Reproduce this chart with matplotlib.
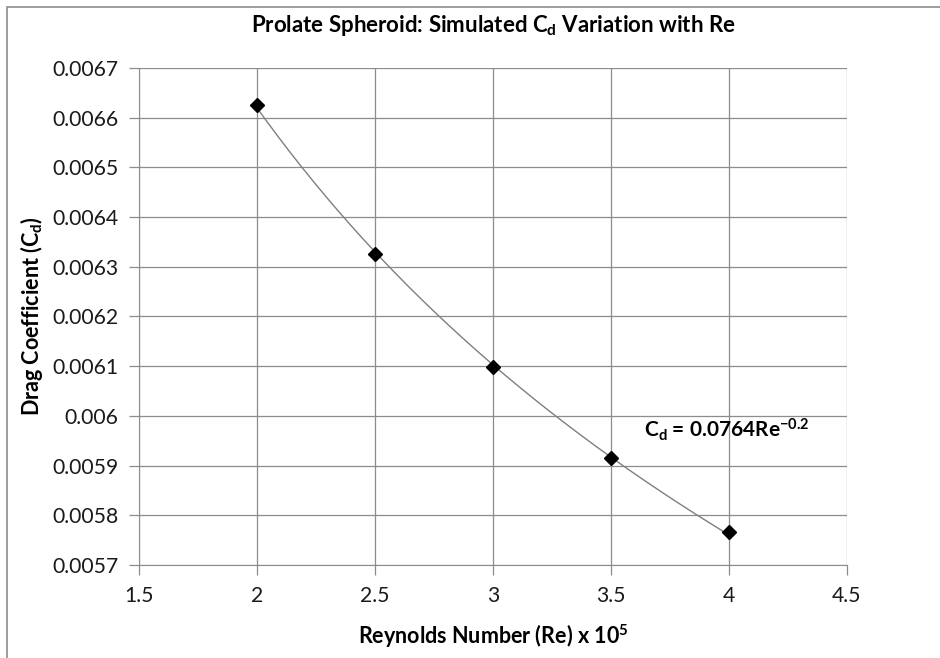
import numpy as np
import matplotlib as mpl
import matplotlib.pyplot as plt
from matplotlib.patches import Rectangle

mpl.rcParams['font.family'] = ['Lato', 'DejaVu Sans']
mpl.rcParams['mathtext.fontset'] = 'custom'
mpl.rcParams['mathtext.rm'] = 'Lato'
mpl.rcParams['mathtext.bf'] = 'Lato:bold'
mpl.rcParams['mathtext.it'] = 'Lato:italic'

# simulated data (Re in units of 1e5)
re_vals = [2.0, 2.5, 3.0, 3.5, 4.0]
cd_vals = [0.006625, 0.006325, 0.006098, 0.005916, 0.005766]

x_ticks = [1.5, 2, 2.5, 3, 3.5, 4, 4.5]
y_ticks = [0.0057, 0.0058, 0.0059, 0.006, 0.0061, 0.0062, 0.0063, 0.0064, 0.0065, 0.0066, 0.0067]
y_labels = ['0.0057', '0.0058', '0.0059', '0.006', '0.0061', '0.0062', '0.0063', '0.0064', '0.0065', '0.0066', '0.0067']

# power trendline fitted on the data
b, log_a = np.polyfit(np.log(re_vals), np.log(cd_vals), 1)
xs = np.linspace(re_vals[0], re_vals[-1], 200)
trend = np.exp(log_a) * xs ** b

fig = plt.figure(figsize=(9.4, 6.58), dpi=100)
ax = fig.add_axes([0.148, 0.141, 0.753, 0.756])

grid_c = '#8c8c8c'
ax.plot(xs, trend, color='#7f7f7f', linewidth=1.0, zorder=2)
ax.plot(re_vals, cd_vals, linestyle='none', marker='D', markersize=7,
        color='black', zorder=3)

ax.set_xlim(1.5, 4.5)
ax.set_ylim(0.0057, 0.0067)
ax.set_xticks(x_ticks)
ax.set_xticklabels([('%g' % t) for t in x_ticks])
ax.set_yticks(y_ticks)
ax.set_yticklabels(y_labels)
ax.grid(True, color=grid_c, linewidth=0.9)
ax.set_axisbelow(True)
for s in ['top', 'right']:
    ax.spines[s].set_visible(False)
for s in ['left', 'bottom']:
    ax.spines[s].set_color(grid_c)
ax.tick_params(axis='both', direction='out', length=7, color=grid_c,
               labelsize=15.2, colors='#1a1a1a', width=0.9)
ax.tick_params(axis='x', pad=8)
ax.tick_params(axis='y', pad=8)

ax.set_xlabel(r'Reynolds Number (Re) x 10$^\mathbf{5}$', fontsize=15.5, fontweight='bold', labelpad=12)
ax.set_ylabel(r'Drag Coefficient (C$_\mathbf{d}$)', fontsize=15.5, fontweight='bold', labelpad=5)
ax.set_title(r'Prolate Spheroid: Simulated C$_\mathbf{d}$ Variation with Re',
             fontsize=16, fontweight='bold', pad=26)

ax.text(3.64, 0.005945, r'C$_\mathbf{d}$ = 0.0764Re$^{\mathbf{-0.2}}$',
        fontsize=15, fontweight='bold', ha='left', va='bottom')

fig.add_artist(Rectangle((0.007, -0.1), 1.2, 1.089, transform=fig.transFigure,
                         fill=False, edgecolor='#8c8c8c', linewidth=1.2))

fig.savefig('out.png', dpi=100)
